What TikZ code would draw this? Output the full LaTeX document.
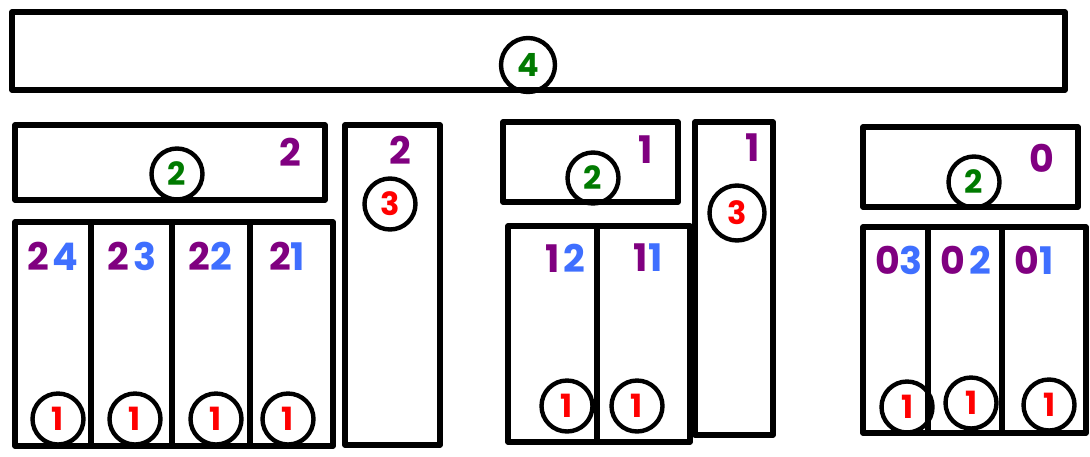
\documentclass[tikz,border=0pt]{standalone}
\usepackage{fontspec}
\setmainfont{Poppins}
\usetikzlibrary{positioning}
\definecolor{numpurple}{HTML}{800080}
\definecolor{numblue}{HTML}{3F6FFF}
\definecolor{numgreen}{HTML}{007A00}
\definecolor{numred}{HTML}{FF0000}

\begin{document}
\begin{tikzpicture}[
      x=0.5pt, y=-0.5pt,
      box/.style={draw, line width=2.6pt, line join=round, inner sep=0pt},
      label/.style={font=\fontsize{19}{19}\selectfont\bfseries, inner sep=0pt},
      badge/.style={draw, circle, line width=2.2pt, minimum size=25.5pt, inner sep=0pt, font=\fontsize{16}{16}\selectfont\bfseries},
      lvl/.style={badge, text=numred},
      grp/.style={badge, text=numgreen}
    ]
    \useasboundingbox (0,0) rectangle (1090,456);

    \node[box, minimum width=526.5pt, minimum height=39pt] (top) at (538.5,51) {};
    \node[grp, minimum size=27pt] (top_badge) at (528,65) {4};

    \node[box, minimum width=155pt, minimum height=37.5pt] (hdr_a) at (170,162.5) {};
    \node[box, minimum width=38pt, minimum height=112pt] (col_a4) at (53,334) {};
    \node[box, minimum width=40.5pt, minimum height=112pt] (col_a3) at (131.5,334) {};
    \node[box, minimum width=39pt, minimum height=112pt] (col_a2) at (211,334) {};
    \node[box, minimum width=41.5pt, minimum height=112pt] (col_a1) at (291.5,334) {};
    \node[box, minimum width=47.5pt, minimum height=160pt] (tall_a) at (392.5,285) {};

    \node[box, minimum width=87.5pt, minimum height=40pt] (hdr_b) at (590.5,162) {};
    \node[box, minimum width=44.5pt, minimum height=108pt] (col_b2) at (552.5,334) {};
    \node[box, minimum width=46.5pt, minimum height=108pt] (col_b1) at (643.5,334) {};
    \node[box, minimum width=39pt, minimum height=156.5pt] (tall_b) at (734,278.5) {};

    \node[box, minimum width=107.5pt, minimum height=40pt] (hdr_c) at (970.5,167) {};
    \node[box, minimum width=32.5pt, minimum height=103pt] (col_c3) at (895.5,330) {};
    \node[box, minimum width=37pt, minimum height=103pt] (col_c2) at (965,330) {};
    \node[box, minimum width=42pt, minimum height=103pt] (col_c1) at (1044,330) {};

    \node[label, text=numpurple] (hdr_a_num) at (290,152) {2};
    \node[grp] (hdr_a_badge) at (177,174) {2};
    \node[label, text=numpurple] (tall_a_num) at (400,150) {2};
    \node[lvl] (tall_a_badge) at (390,204) {3};
    \node[label] (col_a4_num) at (53,256) {\color{numpurple}2\kern2pt\color{numblue}4};
    \node[label] (col_a3_num) at (132,256) {\color{numpurple}2\kern2pt\color{numblue}3};
    \node[label] (col_a2_num) at (210,256) {\color{numpurple}2\color{numblue}2};
    \node[label] (col_a1_num) at (287,256) {\color{numpurple}2\color{numblue}1};
    \node[lvl] (col_a4_badge) at (58,419) {1};
    \node[lvl] (col_a3_badge) at (135,419) {1};
    \node[lvl] (col_a2_badge) at (216,419) {1};
    \node[lvl] (col_a1_badge) at (288,419) {1};

    \node[label, text=numpurple] (hdr_b_num) at (646,150) {1};
    \node[grp] (hdr_b_badge) at (593,178) {2};
    \node[label, text=numpurple] (tall_b_num) at (753,148) {1};
    \node[lvl, minimum size=27.5pt] (tall_b_badge) at (737,213) {3};
    \node[label] (col_b2_num) at (565,258) {\color{numpurple}1\kern2pt\color{numblue}2};
    \node[label] (col_b1_num) at (648,258) {\color{numpurple}1\color{numblue}1};
    \node[lvl] (col_b2_badge) at (567,406) {1};
    \node[lvl] (col_b1_badge) at (637,406) {1};

    \node[label, text=numpurple] (hdr_c_num) at (1042,158) {0};
    \node[grp] (hdr_c_badge) at (974,182) {2};
    \node[label] (col_c3_num) at (899,260) {\color{numpurple}0\color{numblue}3};
    \node[label] (col_c2_num) at (966,260) {\color{numpurple}0\kern2pt\color{numblue}2};
    \node[label] (col_c1_num) at (1034,260) {\color{numpurple}0\color{numblue}1};
    \node[lvl] (col_c3_badge) at (907,407) {1};
    \node[lvl] (col_c2_badge) at (971,403) {1};
    \node[lvl] (col_c1_badge) at (1049,405) {1};

  \end{tikzpicture}
\end{document}
